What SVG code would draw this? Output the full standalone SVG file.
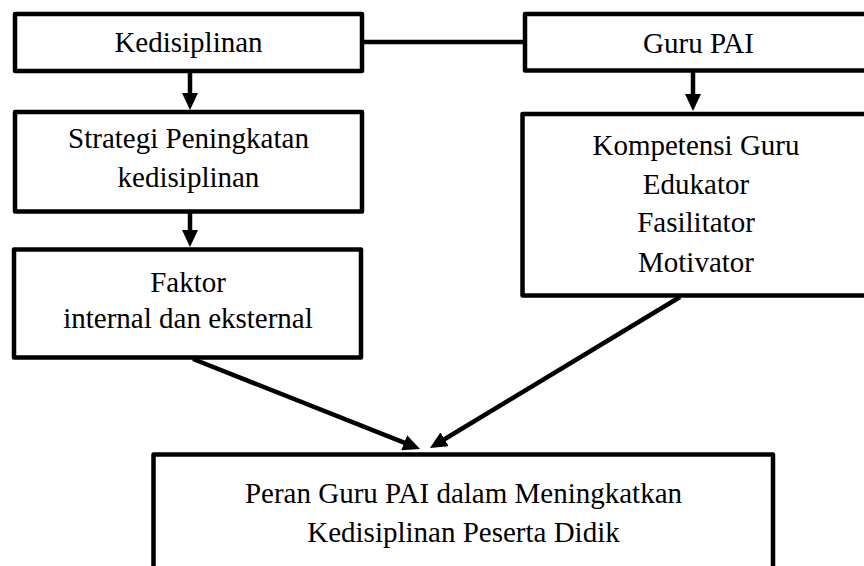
<svg xmlns="http://www.w3.org/2000/svg" width="864" height="566" viewBox="0 0 864 566">
<defs>
<style>
.box{fill:#fff;stroke:#000;stroke-width:4.5;stroke-linejoin:round}
.c{stroke:#000;stroke-width:4.5;fill:none}
.t{font-family:"Liberation Serif",serif;font-size:29px;text-anchor:middle;fill:#000}
</style>
<marker id="ah" viewBox="0 0 17 16" refX="4" refY="8" markerWidth="17" markerHeight="16" markerUnits="userSpaceOnUse" orient="auto">
<path d="M0,0 L17,8 L0,16 z" fill="#000"/>
</marker>
</defs>
<g id="connectors">
<line class="c" x1="362" y1="42" x2="525" y2="42"/>
<line class="c" x1="190" y1="73" x2="190" y2="97" marker-end="url(#ah)"/>
<line class="c" x1="190" y1="213" x2="190" y2="234" marker-end="url(#ah)"/>
<line class="c" x1="693" y1="72" x2="693" y2="98" marker-end="url(#ah)"/>
<line class="c" x1="193" y1="359" x2="407.9" y2="444.2" marker-end="url(#ah)"/>
<line class="c" x1="680" y1="297" x2="441.1" y2="441.3" marker-end="url(#ah)"/>
</g>
<g id="kedisiplinan">
<rect class="box" x="15" y="14" width="347" height="57"/>
<text class="t" x="188.5" y="52">Kedisiplinan</text>
</g>
<g id="strategi">
<rect class="box" x="15" y="112" width="347" height="99.5"/>
<text class="t" x="188.5" y="148">Strategi Peningkatan</text>
<text class="t" x="188.5" y="187">kedisiplinan</text>
</g>
<g id="faktor">
<rect class="box" x="14" y="249.5" width="347" height="108"/>
<text class="t" x="188" y="292">Faktor</text>
<text class="t" x="188" y="328">internal dan eksternal</text>
</g>
<g id="guru-pai">
<rect class="box" x="525" y="14" width="400" height="56.5"/>
<text class="t" x="698.5" y="53">Guru PAI</text>
</g>
<g id="kompetensi">
<rect class="box" x="522.5" y="114" width="400" height="181.5"/>
<text class="t" x="696" y="155">Kompetensi Guru</text>
<text class="t" x="696" y="194">Edukator</text>
<text class="t" x="696" y="232">Fasilitator</text>
<text class="t" x="696" y="272">Motivator</text>
</g>
<g id="peran">
<rect class="box" x="153.5" y="454.5" width="619.5" height="200"/>
<text class="t" x="463.5" y="503">Peran Guru PAI dalam Meningkatkan</text>
<text class="t" x="463.5" y="542">Kedisiplinan Peserta Didik</text>
</g>
</svg>
